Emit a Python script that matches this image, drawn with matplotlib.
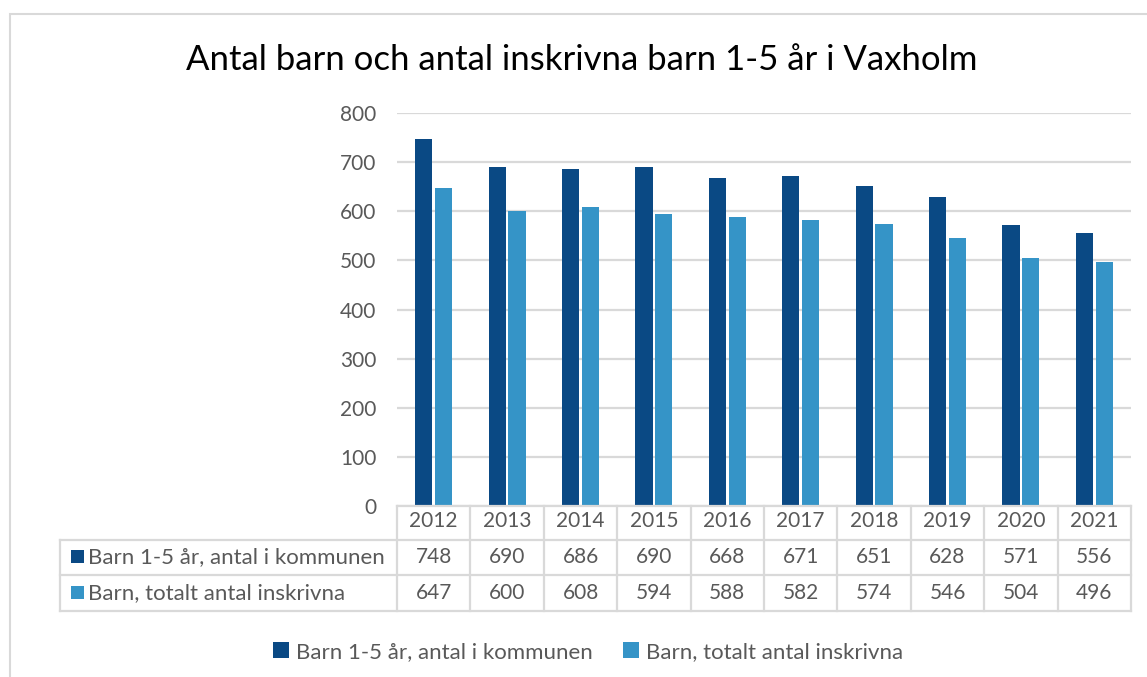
import matplotlib
matplotlib.use("Agg")
import matplotlib.pyplot as plt
from matplotlib.transforms import blended_transform_factory
from matplotlib.patches import Rectangle
from matplotlib.lines import Line2D

years = ["2012", "2013", "2014", "2015", "2016", "2017", "2018", "2019", "2020", "2021"]
series_names = ["Barn 1-5 år, antal i kommunen", "Barn, totalt antal inskrivna"]
barn_kommunen = [748, 690, 686, 690, 668, 671, 651, 628, 571, 556]
barn_inskrivna = [647, 600, 608, 594, 588, 582, 574, 546, 504, 496]
yticks = [0, 100, 200, 300, 400, 500, 600, 700, 800]
title = "Antal barn och antal inskrivna barn 1-5 år i Vaxholm"

W, H = 1147, 677
DARK = "#0A4984"
LIGHT = "#3594C7"
GRAY = "#595959"
LINE = "#D9D9D9"
FONT = "Lato"

plt.rcParams['font.family'] = [FONT, 'DejaVu Sans']

fig = plt.figure(figsize=(W / 100, H / 100), dpi=100)
fig.patch.set_facecolor("white")

def fx(x):
    return x / W

def fy(y):
    return 1 - y / H

# outer frame (left and top visible)
fig.add_artist(Rectangle((fx(10), -0.1), 1.2, fy(14) + 0.1, transform=fig.transFigure,
                         fill=False, edgecolor=LINE, lw=1.5))

ax_left, ax_right, ax_top, ax_bot = 397, 1131, 113, 506
ax = fig.add_axes([fx(ax_left), fy(ax_bot), (ax_right - ax_left) / W, (ax_bot - ax_top) / H])

x = list(range(len(years)))
bw = 0.235
off = 0.135
b1 = ax.bar([i - off for i in x], barn_kommunen, width=bw, color=DARK, label=series_names[0], zorder=3)
b2 = ax.bar([i + off for i in x], barn_inskrivna, width=bw, color=LIGHT, label=series_names[1], zorder=3)

fs_num = 15
fs_txt = 16

ax.set_xlim(-0.5, len(years) - 0.5)
ax.set_ylim(0, 800)
ax.set_yticks(yticks)
ax.set_yticklabels([str(v) for v in yticks])
ax.tick_params(axis='y', length=0, pad=15, labelsize=fs_num, labelcolor=GRAY)
ax.tick_params(axis='x', length=0, labelbottom=False)
for s in ax.spines.values():
    s.set_visible(False)
ax.yaxis.grid(True, color=LINE, lw=1.6, zorder=0)
ax.set_axisbelow(True)

# title
fig.text(fx(582), fy(60), title, ha='center', va='center', fontsize=25, color="black")

# data table
bt = blended_transform_factory(ax.transData, fig.transFigure)
row_lines = [506, 540, 575, 611]
tab_left = 60
lkw = dict(color=LINE, lw=1.6, solid_capstyle='projecting')
fig.add_artist(Line2D([fx(ax_left), fx(ax_right)], [fy(506), fy(506)], transform=fig.transFigure, **lkw))
for yl in row_lines[1:]:
    fig.add_artist(Line2D([fx(tab_left), fx(ax_right)], [fy(yl), fy(yl)], transform=fig.transFigure, **lkw))
fig.add_artist(Line2D([fx(tab_left), fx(tab_left)], [fy(540), fy(611)], transform=fig.transFigure, **lkw))
for i in range(len(years) + 1):
    fig.add_artist(Line2D([i - 0.5, i - 0.5], [fy(506), fy(611)], transform=bt, **lkw))

for i, yr in enumerate(years):
    fig.text(i, fy(521), yr, transform=bt, ha='center', va='center', fontsize=fs_num, color=GRAY)
    fig.text(i, fy(557), str(barn_kommunen[i]), transform=bt, ha='center', va='center', fontsize=fs_num, color=GRAY)
    fig.text(i, fy(593), str(barn_inskrivna[i]), transform=bt, ha='center', va='center', fontsize=fs_num, color=GRAY)

for yc, name, col in [(557, series_names[0], DARK), (593, series_names[1], LIGHT)]:
    fig.add_artist(Rectangle((fx(71), fy(yc + 6)), 13 / W, 13 / H, transform=fig.transFigure,
                             facecolor=col, edgecolor='none'))
    fig.text(fx(88), fy(yc), name, ha='left', va='center', fontsize=fs_txt, color=GRAY)

leg = fig.legend(handles=[b1, b2], labels=series_names, loc='center', bbox_to_anchor=(fx(588), fy(652)),
                 ncol=2, frameon=False, fontsize=fs_txt, handlelength=0.7, handleheight=0.7,
                 handletextpad=0.3, columnspacing=1.4)
for t in leg.get_texts():
    t.set_color(GRAY)

fig.savefig("out.png", dpi=100, facecolor="white")
